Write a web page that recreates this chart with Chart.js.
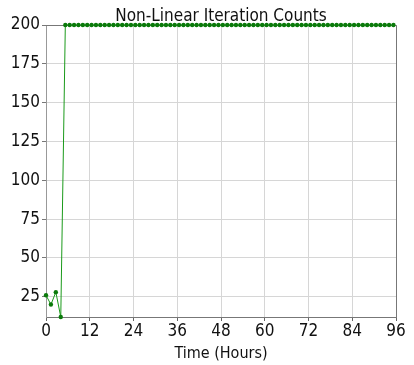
<!DOCTYPE html>
<html>
<head>
<meta charset="utf-8">
<script src="https://cdn.jsdelivr.net/npm/chart.js@4/dist/chart.umd.min.js"></script>
<style>
  body { margin: 0; background: #fff; }
</style>
</head>
<body>
<canvas id="chartIterations" width="414" height="365"></canvas>
<script>
/* Non-linear iteration counts */
const timeHours = [
  0, 1.35, 2.7, 4.05,
  5.3, 6.5, 7.7, 8.9, 10.1, 11.3, 12.5, 13.7, 14.9, 16.1, 17.3, 18.5, 19.7, 20.9, 22.1, 23.3,
  24.5, 25.7, 26.9, 28.1, 29.3, 30.5, 31.7, 32.9, 34.1, 35.3, 36.5, 37.7, 38.9, 40.1, 41.3, 42.5,
  43.7, 44.9, 46.1, 47.3, 48.5, 49.7, 50.9, 52.1, 53.3, 54.5, 55.7, 56.9, 58.1, 59.3, 60.5, 61.7,
  62.9, 64.1, 65.3, 66.5, 67.7, 68.9, 70.1, 71.3, 72.5, 73.7, 74.9, 76.1, 77.3, 78.5, 79.7, 80.9,
  82.1, 83.3, 84.5, 85.7, 86.9, 88.1, 89.3, 90.5, 91.7, 92.9, 94.1, 95.3,
];
const iterations = [
  26, 20, 28, 12,
  200, 200, 200, 200, 200, 200, 200, 200, 200, 200, 200, 200, 200, 200, 200, 200,
  200, 200, 200, 200, 200, 200, 200, 200, 200, 200, 200, 200, 200, 200, 200, 200,
  200, 200, 200, 200, 200, 200, 200, 200, 200, 200, 200, 200, 200, 200, 200, 200,
  200, 200, 200, 200, 200, 200, 200, 200, 200, 200, 200, 200, 200, 200, 200, 200,
  200, 200, 200, 200, 200, 200, 200, 200, 200, 200, 200, 200,
];
const xTicks = [0, 12, 24, 36, 48, 60, 72, 84, 96];
const yTicks = [25, 50, 75, 100, 125, 150, 175, 200];
const chartTitle = 'Non-Linear Iteration Counts';

const font = 'DejaVu Sans Condensed';

// box spines and a title centred on the plot area
const frameBox = {
  id: 'frameBox',
  beforeDatasetsDraw(chart) {
    const { ctx, chartArea } = chart;
    ctx.save();
    ctx.strokeStyle = '#777';
    ctx.lineWidth = 1;
    ctx.beginPath();
    ctx.moveTo(chartArea.left, chartArea.top + 0.5);
    ctx.lineTo(chartArea.right + 0.5, chartArea.top + 0.5);
    ctx.lineTo(chartArea.right + 0.5, chartArea.bottom);
    ctx.stroke();
    ctx.restore();
  },
  afterDraw(chart) {
    const { ctx, chartArea } = chart;
    ctx.save();
    ctx.fillStyle = '#111';
    ctx.font = '17px "' + font + '"';
    ctx.textAlign = 'center';
    ctx.textBaseline = 'alphabetic';
    ctx.fillText(chartTitle, (chartArea.left + chartArea.right) / 2, 21);
    ctx.restore();
  },
};

const points = [];
for (let i in timeHours) {
  points.push({ x: timeHours[i], y: iterations[i] });
}

const ctx = document.getElementById('chartIterations').getContext('2d');
const chartIterations = new Chart(ctx, {
  type: 'scatter',
  data: {
    datasets: [
      {
        data: points,
        showLine: true,
        borderColor: '#1a9a1a',
        borderWidth: 1,
        backgroundColor: '#0a7a0a',
        pointBorderColor: '#0a7a0a',
        pointRadius: 2.2,
        pointBorderWidth: 0,
        clip: false,
      },
    ],
  },
  options: {
    responsive: false,
    animation: false,
    layout: {
      padding: { top: 25, right: 18, left: 0, bottom: 0 },
    },
    scales: {
      x: {
        type: 'linear',
        min: 0,
        max: 96,
        afterBuildTicks: (scale) => {
          scale.ticks = xTicks.map((v) => ({ value: v }));
        },
        afterFit: (scale) => {
          scale.height = 48;
        },
        grid: {
          color: '#d6d6d6',
          tickColor: '#666',
          tickLength: 4,
        },
        border: { color: '#777' },
        ticks: {
          color: '#111',
          padding: 0,
          maxRotation: 0,
          font: { family: font, size: 17 },
        },
        title: {
          display: true,
          text: 'Time (Hours)',
          color: '#111',
          padding: { top: 0, bottom: 2 },
          font: { family: font, size: 16 },
        },
      },
      y: {
        min: 12,
        max: 200,
        afterBuildTicks: (scale) => {
          scale.ticks = yTicks.map((v) => ({ value: v }));
        },
        afterFit: (scale) => {
          scale.width = 46;
        },
        grid: {
          color: '#d6d6d6',
          tickColor: '#777',
          tickLength: 4,
        },
        border: { color: '#999' },
        ticks: {
          color: '#111',
          padding: 2,
          font: { family: font, size: 17 },
        },
      },
    },
    plugins: {
      legend: {
        display: false,
      },
      tooltip: {
        enabled: false,
      },
      title: {
        display: false,
      },
    },
  },
  plugins: [frameBox],
});
</script>
</body>
</html>
